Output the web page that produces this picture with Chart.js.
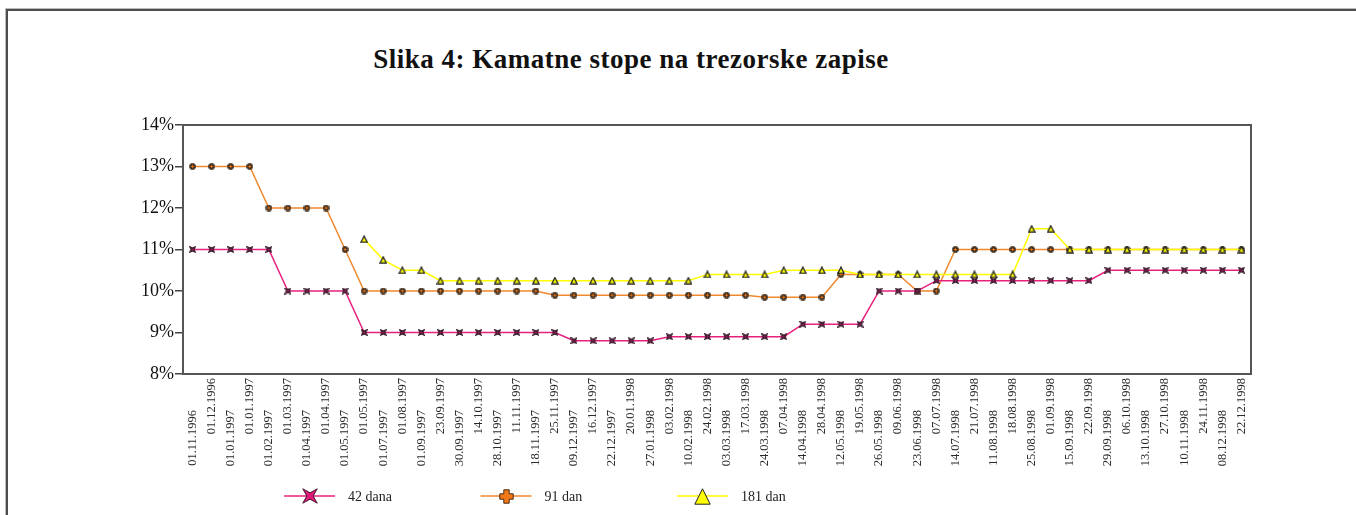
<!DOCTYPE html>
<html>
<head>
<meta charset="utf-8">
<title>Kamatne stope na trezorske zapise</title>
<script src="https://cdn.jsdelivr.net/npm/chart.js@4.4.0/dist/chart.umd.min.js"></script>
<style>
  html, body { margin: 0; padding: 0; background: #fff; }
  #wrap { position: relative; width: 1356px; height: 515px; overflow: hidden; }
  #frame {
    position: absolute; left: 6px; top: 9px; right: -10px; bottom: -10px;
    border-top: 2px solid #4d4d4d; border-left: 2px solid #4d4d4d;
    box-shadow: -1px -1px 0 #bdbdbd;
  }
  #title {
    position: absolute; left: 0; width: 1262px; top: 44px;
    text-align: center; color: #111;
    font: bold 27px "Liberation Serif", "DejaVu Serif", serif;
    letter-spacing: 0.5px;
  }
  #chart { position: absolute; left: 0; top: 0; }
</style>
</head>
<body>
<div id="wrap">
  <div id="frame"></div>
  <div id="title">Slika 4: Kamatne stope na trezorske zapise</div>
  <canvas id="chart" width="1356" height="515"></canvas>
</div>
<script>
// Auction dates
const dates = [
  '01.11.1996', '01.12.1996', '01.01.1997', '01.01.1997', '01.02.1997', '01.03.1997',
  '01.04.1997', '01.04.1997', '01.05.1997', '01.05.1997', '01.07.1997', '01.08.1997',
  '01.09.1997', '23.09.1997', '30.09.1997', '14.10.1997', '28.10.1997', '11.11.1997',
  '18.11.1997', '25.11.1997', '09.12.1997', '16.12.1997', '22.12.1997', '20.01.1998',
  '27.01.1998', '03.02.1998', '10.02.1998', '24.02.1998', '03.03.1998', '17.03.1998',
  '24.03.1998', '07.04.1998', '14.04.1998', '28.04.1998', '12.05.1998', '19.05.1998',
  '26.05.1998', '09.06.1998', '23.06.1998', '07.07.1998', '14.07.1998', '21.07.1998',
  '11.08.1998', '18.08.1998', '25.08.1998', '01.09.1998', '15.09.1998', '22.09.1998',
  '29.09.1998', '06.10.1998', '13.10.1998', '27.10.1998', '10.11.1998', '24.11.1998',
  '08.12.1998', '22.12.1998'
];

// Rates in %
const rate42 = [
  11, 11, 11, 11, 11, 10, 10, 10, 10, 9, 9, 9, 9, 9, 9, 9, 9, 9, 9, 9,
  8.8, 8.8, 8.8, 8.8, 8.8, 8.9, 8.9, 8.9, 8.9, 8.9, 8.9, 8.9,
  9.2, 9.2, 9.2, 9.2, 10, 10, 10,
  10.25, 10.25, 10.25, 10.25, 10.25, 10.25, 10.25, 10.25, 10.25,
  10.5, 10.5, 10.5, 10.5, 10.5, 10.5, 10.5, 10.5
];
const rate91 = [
  13, 13, 13, 13, 12, 12, 12, 12, 11,
  10, 10, 10, 10, 10, 10, 10, 10, 10, 10,
  9.9, 9.9, 9.9, 9.9, 9.9, 9.9, 9.9, 9.9, 9.9, 9.9, 9.9,
  9.85, 9.85, 9.85, 9.85, 10.4, 10.4, 10.4, 10.4, 10, 10,
  11, 11, 11, 11, 11, 11, 11, 11, 11, 11, 11, 11, 11, 11, 11, 11
];
const rate181 = [
  null, null, null, null, null, null, null, null, null,
  11.25, 10.75, 10.5, 10.5,
  10.25, 10.25, 10.25, 10.25, 10.25, 10.25, 10.25, 10.25, 10.25, 10.25, 10.25, 10.25, 10.25, 10.25,
  10.4, 10.4, 10.4, 10.4, 10.5, 10.5, 10.5, 10.5,
  10.4, 10.4, 10.4, 10.4, 10.4, 10.4, 10.4, 10.4, 10.4,
  11.5, 11.5, 11, 11, 11, 11, 11, 11, 11, 11, 11, 11
];
const yTicks = [8, 9, 10, 11, 12, 13, 14];
const seriesNames = ['42 dana', '91 dan', '181 dan'];

const SERIF = '"Liberation Serif", "DejaVu Serif", serif';

// Small canvas markers (Excel style: X-star, plus, triangle)
function makeMarker(shape, size, fill, stroke, lw) {
  const c = document.createElement('canvas');
  c.width = size; c.height = size;
  const g = c.getContext('2d');
  const s = size, m = lw / 2 + 0.3, h = s / 2;
  g.beginPath();
  if (shape === 'x') {
    const k = s * 0.2;
    g.moveTo(m, m); g.lineTo(h, h - k); g.lineTo(s - m, m); g.lineTo(h + k, h);
    g.lineTo(s - m, s - m); g.lineTo(h, h + k); g.lineTo(m, s - m); g.lineTo(h - k, h);
  } else if (shape === 'plus') {
    const a = s * 0.32, b = s - a;
    g.moveTo(a, m); g.lineTo(b, m); g.lineTo(b, a); g.lineTo(s - m, a); g.lineTo(s - m, b);
    g.lineTo(b, b); g.lineTo(b, s - m); g.lineTo(a, s - m); g.lineTo(a, b); g.lineTo(m, b);
    g.lineTo(m, a); g.lineTo(a, a);
  } else {
    g.moveTo(h, m); g.lineTo(s - m, s - m); g.lineTo(m, s - m);
  }
  g.closePath();
  g.fillStyle = fill; g.fill();
  g.lineWidth = lw; g.strokeStyle = stroke; g.stroke();
  return c;
}

const colors = ['#e8207e', '#f0882c', '#ffff00'];
const pointMarks = [
  makeMarker('x', 7, '#c01060', '#3a2030', 1.4),
  makeMarker('plus', 7, '#d8701c', '#3a2a1a', 1.4),
  makeMarker('tri', 8, '#ffff00', '#222', 1.3)
];
const legendMarks = [
  makeMarker('x', 16, '#e0187a', '#402030', 1),
  makeMarker('plus', 15, '#f07818', '#4a2a10', 1),
  makeMarker('tri', 17, '#ffff00', '#222', 1)
];

// Frame round the plot area
const plotBox = {
  id: 'plotBox',
  afterDatasetsDraw(chart) {
    const a = chart.chartArea, ctx = chart.ctx;
    ctx.save();
    ctx.strokeStyle = '#555';
    ctx.lineWidth = 2;
    ctx.strokeRect(a.left, a.top, a.right - a.left, a.bottom - a.top);
    ctx.restore();
  }
};

// Vertical date labels, staggered in two rows
const dateLabels = {
  id: 'dateLabels',
  afterDraw(chart) {
    const x = chart.scales.x, ctx = chart.ctx;
    const bottom = chart.chartArea.bottom;
    ctx.save();
    ctx.font = '12.5px ' + SERIF;
    ctx.fillStyle = '#2a2a2a';
    ctx.textAlign = 'right';
    ctx.textBaseline = 'middle';
    dates.forEach((d, i) => {
      ctx.save();
      ctx.translate(x.getPixelForValue(i), bottom + (i % 2 ? 4 : 36));
      ctx.rotate(-Math.PI / 2);
      ctx.fillText(d, 0, 0);
      ctx.restore();
    });
    ctx.restore();
  }
};

// Legend row: line segment with marker, then the name
const lineLegend = {
  id: 'lineLegend',
  afterDraw(chart) {
    const ctx = chart.ctx;
    const y = 496;
    ctx.save();
    ctx.font = '14px ' + SERIF;
    ctx.textBaseline = 'middle';
    ctx.fillStyle = '#222';
    chart.data.datasets.forEach((ds, i) => {
      const x0 = 284 + i * 196.5;
      ctx.strokeStyle = ds.borderColor;
      ctx.lineWidth = 1.5;
      ctx.beginPath();
      ctx.moveTo(x0, y); ctx.lineTo(x0 + 51, y);
      ctx.stroke();
      const mk = legendMarks[i];
      ctx.drawImage(mk, Math.round(x0 + 25.5 - mk.width / 2), Math.round(y - mk.height / 2));
      ctx.fillText(ds.label, x0 + 64, y + 1);
    });
    ctx.restore();
  }
};

function series(i, data, order) {
  return {
    label: seriesNames[i],
    data: data,
    borderColor: colors[i],
    backgroundColor: colors[i],
    borderWidth: 1.5,
    tension: 0,
    pointStyle: pointMarks[i],
    pointRadius: 3,
    spanGaps: false,
    order: order
  };
}

new Chart(document.getElementById('chart'), {
  type: 'line',
  data: {
    labels: dates,
    datasets: [series(0, rate42, 0), series(1, rate91, 2), series(2, rate181, 1)]
  },
  options: {
    responsive: false,
    animation: false,
    devicePixelRatio: 1,
    layout: { padding: { top: 125, left: 123, right: 105, bottom: 141 } },
    plugins: {
      legend: { display: false },
      title: { display: false },
      tooltip: { enabled: false }
    },
    scales: {
      x: {
        type: 'category',
        offset: true,
        grid: { display: false },
        border: { display: false },
        ticks: { display: false },
        afterFit(s) { s.height = 0; }
      },
      y: {
        min: 8,
        max: 14,
        afterBuildTicks(s) { s.ticks = yTicks.map(v => ({ value: v })); },
        afterFit(s) { s.width = 60; },
        border: { display: false },
        grid: {
          drawOnChartArea: false,
          drawTicks: true,
          tickLength: 8,
          color: '#444',
          lineWidth: 1.5
        },
        ticks: {
          padding: 1,
          color: '#111',
          font: { family: SERIF, size: 18 },
          callback: v => v + '%'
        }
      }
    }
  },
  plugins: [plotBox, dateLabels, lineLegend]
});
</script>
</body>
</html>
